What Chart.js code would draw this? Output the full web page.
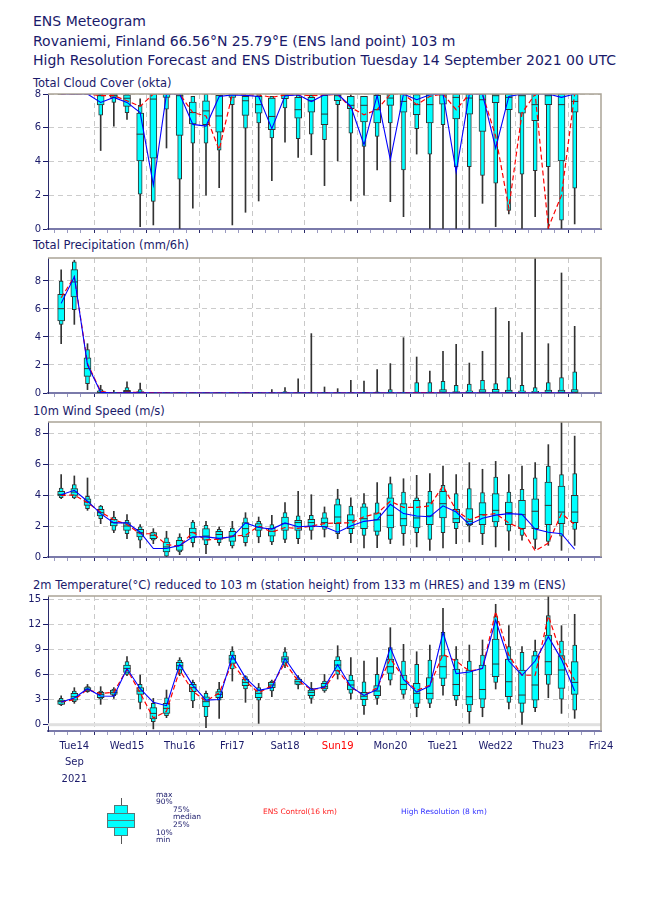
<!DOCTYPE html>
<html>
<head>
<meta charset="utf-8">
<script src="https://cdn.jsdelivr.net/npm/chart.js@4.4.1/dist/chart.umd.min.js"></script>
<style>
  html, body { margin: 0; padding: 0; background: #fff; }
  #page { position: relative; width: 650px; height: 916px; overflow: hidden; font-family: 'DejaVu Sans', sans-serif; color: #1a1a6a; }
  .t { position: absolute; white-space: nowrap; }
  .head { left: 33px; font-size: 14px; line-height: 16px; }
  .ptitle { left: 33px; font-size: 11.5px; line-height: 14px; }
  .lg { font-size: 7.5px; line-height: 8px; }
  canvas { position: absolute; left: 0; }
  .box { position: absolute; background: #00ffff; border: 1px solid #557777; box-sizing: border-box; }
</style>
</head>
<body>
<div id="page">
  <div class="t head" style="top:13px">ENS Meteogram</div>
  <div class="t head" style="top:33px">Rovaniemi, Finland 66.56°N 25.79°E (ENS land point) 103 m</div>
  <div class="t head" style="top:52px">High Resolution Forecast and ENS Distribution Tuesday 14 September 2021 00 UTC</div>

  <div class="t ptitle" style="top:76px">Total Cloud Cover (okta)</div>
  <div class="t ptitle" style="top:238px">Total Precipitation (mm/6h)</div>
  <div class="t ptitle" style="top:404px">10m Wind Speed (m/s)</div>
  <div class="t ptitle" style="top:578px">2m Temperature(°C) reduced to 103 m (station height) from 133 m (HRES) and 139 m (ENS)</div>

  <canvas id="cCloud" width="650" height="153" style="top:84px"></canvas>
  <canvas id="cPrecip" width="650" height="153" style="top:248px"></canvas>
  <canvas id="cWind" width="650" height="153" style="top:412px"></canvas>
  <canvas id="cTemp" width="650" height="205" style="top:586px"></canvas>

  <!-- legend glyph -->
  <div style="position:absolute;left:121px;top:798px;width:1px;height:46px;background:#555"></div>
  <div class="box" style="left:114px;top:805px;width:14px;height:31px"></div>
  <div class="box" style="left:107px;top:813px;width:28px;height:15px"></div>
  <div style="position:absolute;left:108px;top:820px;width:26px;height:1px;background:#557777"></div>
  <div class="t lg" style="left:156px;top:791px">max</div>
  <div class="t lg" style="left:156px;top:798px">90%</div>
  <div class="t lg" style="left:173px;top:806px">75%</div>
  <div class="t lg" style="left:173px;top:813px">median</div>
  <div class="t lg" style="left:173px;top:821px">25%</div>
  <div class="t lg" style="left:156px;top:829px">10%</div>
  <div class="t lg" style="left:156px;top:836px">min</div>
  <div class="t lg" style="left:263px;top:808px;color:#ff2020">ENS Control(16 km)</div>
  <div class="t lg" style="left:401px;top:808px;color:#3333ff">High Resolution (8 km)</div>
</div>
<script>
// forecast steps (hours after Tue 14 Sep 00 UTC)
const stepHours = [6,12,18,24,30,36,42,48,54,60,66,72,78,84,90,96,102,108,114,120,
  126,132,138,144,150,156,162,168,174,180,186,192,198,204,210,216,222,228,234,240];
const tickHours = [0,6,12,18,24,30,36,42,48,54,60,66,72,78,84,90,96,102,108,114,120,
  126,132,138,144,150,156,162,168,174,180,186,192,198,204,210,216,222,228,234,240,246,252];
const labelHours = [12,36,60,84,108,132,156,180,204,228,252];
const dayLabels = ['Tue14','Wed15','Thu16','Fri17','Sat18','Sun19','Mon20','Tue21','Wed22','Thu23','Fri24'];

// ENS distribution per step: [min, p10, p25, median, p75, p90, max]
const cloudEns = [
  [8,8,8,8,8,8,8],[8,8,8,8,8,8,8],[8,8,8,8,8,8,8],
  [4.65,6.75,7.35,7.9,7.95,8,8],[6.1,7.5,7.8,7.9,8,8,8],[6.5,6.9,7.27,7.75,7.95,8,8],
  [0.14,2.06,4.04,5.62,6.87,7.33,7.72],[0.24,1.64,4.2,7.7,8,8,8],[4.8,7.1,7.8,8,8,8,8],
  [0,2.95,5.55,7.9,8,8,8],[1.23,5.09,6.22,6.9,7.52,7.86,7.86],[2.0,5.09,6.18,7.0,7.6,8,8],
  [2.45,4.67,5.74,6.7,7.92,7.92,7.92],[0.24,7.37,7.8,8,8,8,8],[0.99,5.98,6.73,7.6,7.86,7.9,7.96],
  [1.66,6.28,6.87,7.37,7.86,8,8],[2.87,5.39,5.88,6.67,7.76,7.86,7.86],[5.15,7.17,7.72,7.9,8,8,8],
  [4.24,5.35,6.57,7.07,7.8,7.92,7.92],[4.4,5.62,6.93,7.6,7.8,7.92,7.92],[2.57,5.29,6.18,6.81,7.92,8,8],
  [4.04,7.37,7.6,7.9,8,8,8],[1.66,5.68,7.13,7.33,7.86,7.86,7.96],[2.0,4.89,6.34,7.33,7.86,7.86,7.86],
  [3.5,5.49,6.28,7.07,7.92,8,8],[1.62,6.28,7.33,7.76,8,8,8],[0.73,3.5,6.93,7.56,8,8,8],
  [4.44,5.94,6.77,7.37,7.96,8,8],[0,4.44,6.28,7.37,8,8,8],[0,6.18,7.4,7.95,8,8,8],
  [0,3.7,6.53,7.8,8,8,8],[0,3.7,6.81,7.76,8,8,8],[1.52,3.17,5.78,7.66,8,8,8],
  [0.14,2.71,7.49,7.9,8,8,8],[0.9,1.1,7.07,7.8,8,8,8],[0,3.25,6.87,7.9,8,8,8],
  [0.73,3.45,6.42,7.37,8,8,8],[0,3.7,7.37,7.9,8,8,8],[0,0.53,4.04,7.37,8,8,8],
  [0.3,2.42,6.93,7.56,8,8,8]
];
const cloudHres = [8,8,8,7.5,7.8,7.5,6.9,2.6,8,8,6.2,6.1,7.85,7.95,7.92,7.85,5.95,7.9,7.95,7.55,
  7.95,8,7.27,4.99,7.92,4.1,8,7.66,7.96,8,3.37,8,8,4.79,7.86,8,8,8,7.8,8];
const cloudCtrl = [8,8,8,7.9,7.9,7.6,7.27,8,8,8,6.9,6.7,4.7,8,7.95,7.95,7.8,7.95,7.95,7.9,
  7.95,7.96,7.2,6.77,7.07,8,8,7.37,7.86,8,7.07,8,8,5.5,1.23,6.87,8,0.08,2.0,8];

const precipEns = [
  [3.52,4.9,5.14,6.02,7.05,8.0,8.8],[4.9,5.95,6.86,7.93,8.81,9.36,9.48],[0.24,0.67,1.19,1.74,2.52,3.1,3.52],
  [0,0,0,0.05,0.15,0.24,0.55],[0,0,0,0,0.02,0.05,0.19],[0,0,0,0.1,0.19,0.38,0.79],
  [0,0,0,0.03,0.1,0.24,0.71],[0,0,0,0,0,0,0.02],[0,0,0,0,0,0,0.02],
  [0,0,0,0,0,0,0],[0,0,0,0,0,0,0],[0,0,0,0,0,0,0],
  [0,0,0,0,0,0,0],[0,0,0,0,0,0,0],[0,0,0,0,0,0,0.02],
  [0,0,0,0,0,0,0.02],[0,0,0,0,0,0,0.24],[0,0,0,0,0.02,0.1,0.38],
  [0,0,0,0,0,0.02,1.02],[0,0,0,0,0,0.02,4.24],[0,0,0,0,0,0.05,0.43],
  [0,0,0,0,0,0.02,0.31],[0,0,0,0,0,0.05,0.9],[0,0,0,0,0,0.05,0.86],
  [0,0,0,0,0,0.08,1.67],[0,0,0,0,0.05,0.24,2.1],[0,0,0,0,0.02,0.05,3.95],
  [0,0,0,0,0.05,0.74,2.57],[0,0,0,0,0.05,0.74,1.57],[0,0,0,0.05,0.24,0.83,2.98],
  [0,0,0,0,0.1,0.55,3.48],[0,0,0,0.02,0.15,0.64,2.14],[0,0,0,0.05,0.24,0.9,2.98],
  [0,0,0,0.05,0.26,0.67,6.1],[0,0,0,0.02,0.2,1.1,5.12],[0,0,0,0.02,0.15,0.55,4.31],
  [0,0,0,0.02,0.12,0.38,10.5],[0,0,0,0.02,0.2,0.74,3.52],[0,0,0,0.02,0.2,1.1,8.57],
  [0,0,0,0.05,0.24,1.52,4.76]
];
const precipHres = [6.4,8.3,2.0,0.05,0,0.02,0.02,0,0,0,0,0,0,0,0,0,0,0,0,0,
  0,0,0,0,0,0,0,0,0,0,0,0,0,0,0,0,0,0,0,0];
const precipCtrl = [6.8,8.3,2.1,0.1,0,0.05,0.05,0.02,0,0,0,0,0,0,0,0,0,0,0,0,
  0,0,0,0,0,0,0,0.03,0.03,0,0,0,0,0,0,0,0,0,0,0];

const windEns = [
  [3.76,3.83,3.94,4.04,4.24,4.45,5.31],[3.76,3.81,3.98,4.19,4.41,4.67,5.23],[3.01,3.12,3.33,3.55,3.76,3.91,5.1],
  [2.15,2.47,2.65,2.86,3.08,3.29,3.33],[1.57,1.72,2.0,2.22,2.43,2.58,2.95],[1.18,1.51,1.72,2.0,2.22,2.37,2.73],
  [0.58,1.08,1.29,1.57,1.78,1.94,2.09],[0.86,1.08,1.18,1.4,1.57,1.61,1.83],[0,0.06,0.32,0.65,0.97,1.23,1.66],
  [0.15,0.32,0.43,0.75,1.08,1.29,1.5],[0.65,0.92,1.23,1.57,1.87,2.26,2.37],[0.22,0.8,1.08,1.35,1.83,2.04,2.3],
  [0.75,0.92,1.14,1.45,1.66,1.78,1.94],[0.58,0.71,1.01,1.35,1.66,1.87,2.3],[0.71,0.92,1.29,1.83,2.22,2.52,2.86],
  [0.92,1.29,1.72,1.94,2.15,2.3,2.58],[0.8,0.97,1.35,1.66,1.87,2.09,2.69],[0.92,1.14,1.72,2.15,2.58,2.86,3.51],
  [0.86,1.18,1.72,2.22,2.37,2.65,4.24],[1.14,1.72,1.94,2.22,2.43,2.69,4.02],[1.29,1.78,1.94,2.22,2.52,2.86,3.23],
  [1.18,1.5,2.15,2.58,3.38,3.76,4.37],[0.92,1.5,1.83,2.37,2.73,3.29,3.81],[0.58,1.4,1.83,2.47,3.23,3.44,4.09],
  [0.6,1.4,1.65,2.4,2.85,3.5,4.8],[0.86,1.14,1.87,2.69,3.81,4.73,5.16],[0.75,1.5,2.0,2.47,3.44,4.19,5.05],
  [0.65,1.57,1.87,2.52,3.66,3.81,5.27],[0.43,1.14,2.09,2.65,3.51,4.24,5.38],[0.58,1.57,2.52,3.44,4.24,4.62,5.87],
  [0.86,1.83,2.22,2.47,3.08,4.09,5.31],[0.97,2.0,2.09,2.3,3.12,4.41,6.09],[0.8,1.5,2.09,2.73,3.51,4.15,5.66],
  [0.65,1.94,2.26,3.01,4.09,5.16,6.17],[0.43,1.66,2.09,2.86,3.55,4.19,5.31],[1.08,1.4,1.83,2.73,3.66,4.37,5.87],
  [0.54,1.14,1.83,2.95,3.76,5.1,6.09],[0.75,1.01,2.09,3.33,4.84,5.87,7.25],[0.43,1.35,2.15,2.9,4.58,5.31,9.0],
  [0.75,1.78,2.22,2.9,3.98,5.38,7.8]
];
const windHres = [4.02,4.3,3.6,2.8,2.2,2.2,1.6,0.55,0.55,0.75,1.3,1.3,1.2,1.3,2.2,1.9,1.8,2.2,1.95,2.0,
  1.95,1.6,2.0,2.3,2.4,3.4,2.8,2.65,2.6,3.3,2.9,2.1,2.5,2.7,2.8,2.75,1.8,1.6,1.5,0.5];
const windCtrl = [3.98,4.0,3.5,2.9,2.4,2.1,1.5,1.5,0.8,0.7,1.6,1.1,1.15,1.35,1.4,2.0,1.6,1.9,1.85,2.0,
  2.15,2.2,2.2,2.6,2.8,3.6,3.2,3.2,3.3,4.6,3.0,2.4,2.7,2.8,2.2,1.8,0.4,0.9,2.8,2.1];

const tempEns = [
  [2.27,2.35,2.43,2.75,2.94,3.14,3.46],[2.55,2.75,2.94,3.34,3.74,4.02,4.42],[3.86,3.94,4.02,4.22,4.42,4.54,4.81],
  [2.43,3.06,3.22,3.62,3.86,4.02,4.54],[3.14,3.46,3.62,3.86,4.14,4.26,4.42],[5.85,6.0,6.25,6.72,7.12,7.52,8.12],
  [1.87,2.67,3.62,4.02,4.42,4.81,5.93],[-0.5,0.36,0.68,1.35,2.03,2.55,3.14],[0.84,1.07,1.35,1.95,2.55,3.22,4.14],
  [5.85,6.13,6.53,7.04,7.44,7.72,8.0],[2.03,2.83,3.94,4.42,4.81,5.05,5.33],[-0.36,0.95,2.15,2.75,3.34,3.74,4.02],
  [0.76,2.94,3.22,3.62,3.94,4.26,5.05],[5.21,6.65,7.32,7.84,8.32,8.79,9.31],[2.67,4.26,4.66,5.05,5.45,5.73,5.85],
  [0.16,2.94,3.22,3.74,4.14,4.42,4.93],[3.34,4.02,4.42,4.74,5.05,5.21,5.33],[6.8,7.12,7.44,7.84,8.12,8.71,9.19],
  [4.26,4.74,4.81,5.13,5.45,5.61,5.85],[2.55,3.14,3.46,3.86,4.14,4.34,5.05],[3.86,4.02,4.26,4.54,4.93,5.21,6.0],
  [5.45,6.0,6.41,7.12,7.72,8.12,9.43],[3.06,3.74,4.14,4.74,5.33,5.93,8.0],[1.23,2.27,3.0,3.4,3.86,5.13,7.6],
  [2.43,3.14,3.46,4.02,4.66,6.0,8.0],[4.74,5.33,6.13,6.92,7.84,9.19,11.58],[3.14,3.62,4.14,4.81,5.93,7.6,9.59],
  [0.95,2.03,2.55,3.74,4.93,7.2,8.71],[2.03,2.55,3.06,3.74,5.61,7.72,9.51],[3.54,4.66,5.53,6.92,8.24,11.02,13.89],
  [2.27,2.94,3.46,4.8,6.65,7.84,9.31],[0.16,1.55,2.35,3.34,6.53,7.6,9.51],[0.95,2.03,3.06,4.2,7.12,8.32,10.11],
  [4.26,5.05,5.73,7.24,10.23,12.89,14.37],[1.87,2.67,3.34,5.13,7.84,9.31,11.82],[0.04,1.47,2.55,3.54,6.53,8.63,9.31],
  [1.55,2.03,2.94,4.74,8.24,8.79,10.11],[3.22,4.81,5.93,7.52,10.7,13.01,15.4],[1.35,3.06,4.34,6.53,8.24,9.99,11.82],
  [0.76,1.75,3.62,5.05,7.52,9.51,13.17]
];
const tempHres = [2.7,3.2,4.3,3.42,3.4,6.7,4.3,2.67,2.27,7.2,4.7,2.94,3.0,8.24,5.6,4.1,4.4,7.9,5.6,4.2,
  4.5,7.15,4.54,3.5,4.2,9.2,5.4,3.9,4.6,11.0,6.1,6.3,6.72,12.5,7.6,5.9,7.6,10.5,7.8,4.02];
const tempCtrl = [2.7,3.0,4.2,3.7,3.9,6.6,3.8,0.8,1.6,6.5,4.0,2.8,3.8,7.4,5.2,3.8,4.7,7.4,5.2,4.2,
  4.4,6.5,4.5,3.5,4.4,7.9,5.6,4.1,4.7,8.4,7.6,6.4,6.7,13.5,8.3,5.9,5.9,13.0,8.3,5.3];

const cloudTicks = [0,2,4,6,8];
const precipTicks = [0,2,4,6,8];
const windTicks = [0,2,4,6,8];
const tempTicks = [0,3,6,9,12,15];

const NAVY = '#1a1a6a';
Chart.defaults.font.family = "'DejaVu Sans', sans-serif";

// top and right frame of each panel
const framePlugin = {
  id: 'frame',
  afterDatasetsDraw(chart) {
    const {ctx, chartArea: {left, right, top, bottom}} = chart;
    ctx.save();
    ctx.strokeStyle = '#aaa496';
    ctx.lineWidth = 1.5;
    ctx.beginPath();
    ctx.moveTo(left, top);
    ctx.lineTo(right, top);
    ctx.lineTo(right, bottom);
    ctx.stroke();
    ctx.restore();
  }
};

// freezing line in the temperature panel
const zeroLinePlugin = {
  id: 'zeroLine',
  beforeDatasetsDraw(chart, args, opts) {
    if (!opts.show) return;
    const {ctx, chartArea: {left, right}} = chart;
    const y0 = chart.scales.y.getPixelForValue(0);
    ctx.save();
    ctx.fillStyle = '#e0e0e0';
    ctx.fillRect(left, y0 - 1.5, right - left, 3);
    ctx.restore();
  }
};

function makePanel(id, ens, hres, ctrl, yMin, yMax, yTicks, showDates) {
  const pts = f => ens.map((r, i) => ({x: stepHours[i], y: f(r)}));
  const barBase = {type: 'bar', grouped: false, borderSkipped: false};
  new Chart(document.getElementById(id), {
    type: 'bar',
    data: {
      datasets: [
        {type: 'line', label: 'High Resolution', data: hres.map((v, i) => ({x: stepHours[i], y: v})),
          borderColor: '#0000ff', borderWidth: 1.1, pointRadius: 0, tension: 0, order: 0},
        {type: 'line', label: 'ENS Control', data: ctrl.map((v, i) => ({x: stepHours[i], y: v})),
          borderColor: '#ff0000', borderWidth: 1.2, borderDash: [5, 3], pointRadius: 0, tension: 0, order: 1},
        {type: 'scatter', label: 'median', data: pts(r => r[3]), pointStyle: 'line',
          pointRadius: 3.5, borderColor: '#333', borderWidth: 1, order: 2},
        Object.assign({label: '25-75%', data: pts(r => [r[2], r[4]]), barThickness: 7,
          backgroundColor: '#00ffff', borderColor: '#333', borderWidth: 1, order: 3}, barBase),
        Object.assign({label: '10-90%', data: pts(r => [r[1], r[5]]), barThickness: 4,
          backgroundColor: '#00ffff', borderColor: '#333', borderWidth: 1, order: 4}, barBase),
        Object.assign({label: 'min-max', data: pts(r => [r[0], r[6]]), barThickness: 1,
          backgroundColor: '#333', borderWidth: 0, order: 5}, barBase)
      ]
    },
    options: {
      responsive: false,
      animation: false,
      events: [],
      layout: {padding: {left: 0, right: 49, top: 10, bottom: 0}},
      plugins: {legend: {display: false}, tooltip: {enabled: false}, zeroLine: {show: id === 'cTemp'}},
      scales: {
        x: {
          type: 'linear', min: 0, max: 252, offset: false,
          afterBuildTicks: s => { s.ticks = tickHours.map(v => ({value: v})); },
          afterFit: s => { s.height = showDates ? 60 : 8; },
          grid: {
            color: c => (c.tick && c.tick.value % 24 === 0 && c.tick.value > 0 && c.tick.value < 252) ? '#c8c8c8' : 'rgba(0,0,0,0)',
            drawTicks: true, tickLength: 4,
            tickColor: c => (c.tick && c.tick.value % 24 === 0) ? '#2a2a6a' : '#9a9ac0'
          },
          border: {display: true, color: '#7a7aaa', width: 2, dash: [5, 4]},
          ticks: {
            display: showDates, autoSkip: false, maxRotation: 0, padding: 3,
            font: {size: 10, lineHeight: 1.65},
            color: c => (c.tick && c.tick.value === 132) ? '#ff0000' : NAVY,
            callback: v => {
              const k = labelHours.indexOf(v);
              if (k < 0) return '';
              return k === 0 ? [dayLabels[0], 'Sep', '2021'] : dayLabels[k];
            }
          }
        },
        y: {
          min: yMin, max: yMax,
          afterBuildTicks: s => { s.ticks = yTicks.map(v => ({value: v})); },
          afterFit: s => { s.width = 48; },
          grid: {color: '#cccccc', lineWidth: 1, drawTicks: true, tickLength: 5, tickColor: NAVY},
          border: {display: true, color: '#2a2a6a', width: 1, dash: [5, 4]},
          ticks: {color: NAVY, font: {size: 10}, padding: 2}
        }
      }
    },
    plugins: [framePlugin, zeroLinePlugin]
  });
}

makePanel('cCloud', cloudEns, cloudHres, cloudCtrl, 0, 8, cloudTicks, false);
makePanel('cPrecip', precipEns, precipHres, precipCtrl, 0, 9.64, precipTicks, false);
makePanel('cWind', windEns, windHres, windCtrl, 0, 8.71, windTicks, false);
makePanel('cTemp', tempEns, tempHres, tempCtrl, -0.75, 15.36, tempTicks, true);
</script>
</body>
</html>
